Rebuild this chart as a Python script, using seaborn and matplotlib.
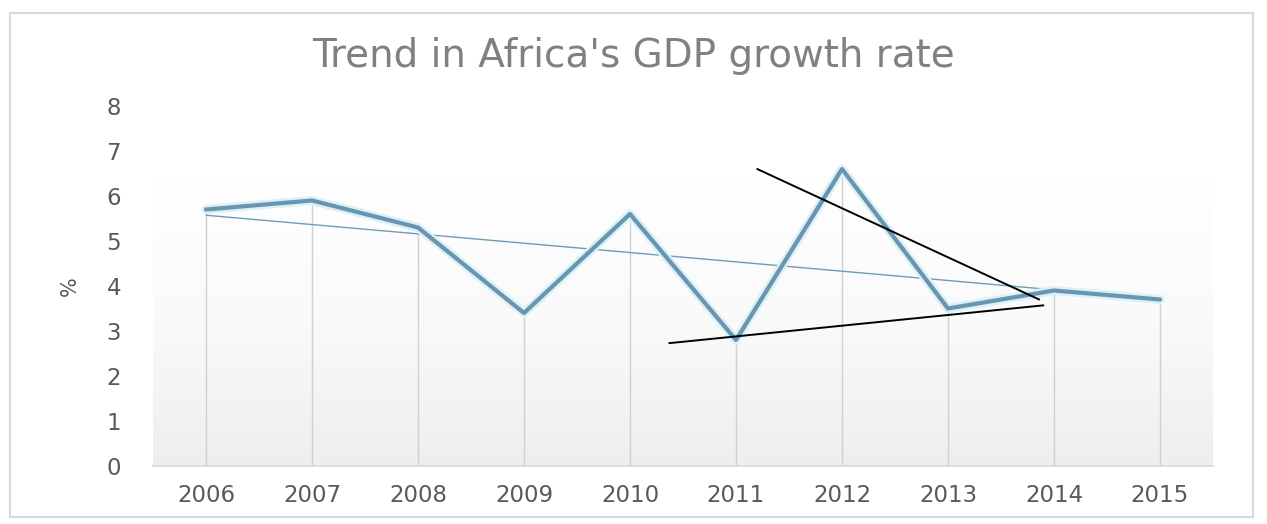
import numpy as np
import pandas as pd
import seaborn as sns
import matplotlib
matplotlib.use("Agg")
import matplotlib.pyplot as plt
import matplotlib.patheffects as pe
from matplotlib.colors import LinearSegmentedColormap
from matplotlib.patches import Rectangle

# Africa's real GDP growth, % per year
years = [2006, 2007, 2008, 2009, 2010, 2011, 2012, 2013, 2014, 2015]
growth = [5.7, 5.9, 5.3, 3.4, 5.6, 2.8, 6.6, 3.5, 3.9, 3.7]

# hand-drawn converging lines (start, end) in year / % units
upper_x = [2011.2, 2013.86]
upper_y = [6.6, 3.7]
lower_x = [2010.37, 2013.9]
lower_y = [2.73, 3.57]

y_ticks = [0, 1, 2, 3, 4, 5, 6, 7, 8]
title = "Trend in Africa's GDP growth rate"

df = pd.DataFrame({"year": years, "growth": growth})

sns.set_theme(style="white")
plt.rcParams["font.family"] = ["DejaVu Sans"]

W, H = 1267, 524
fig = plt.figure(figsize=(W / 100, H / 100), dpi=100)
fig.patch.set_facecolor("white")
ax = fig.add_axes([153 / W, 1 - 466 / H, 1060 / W, 360 / H])
ax.set_facecolor("white")

# soft grey plot-area gradient
grad = np.linspace(0, 1, 256).reshape(-1, 1)
cmap = LinearSegmentedColormap.from_list("bg", ["#eeeeee", "#fafafa", "#ffffff"])
ax.imshow(grad, extent=[years[0] - 0.5, years[-1] + 0.5, 0, 6.45],
          origin="lower", aspect="auto", cmap=cmap, zorder=0)

# drop lines from each point to the axis
ax.vlines(df["year"], 0, df["growth"], color="#d0d0d0", lw=1.0, zorder=1)

# linear trend line
sns.regplot(data=df, x="year", y="growth", scatter=False, ci=None, ax=ax,
            truncate=True,
            line_kws=dict(color="#6f9db5", lw=1.0, zorder=2))

# growth line with a light glow
sns.lineplot(data=df, x="year", y="growth", ax=ax, color="#6895b0", lw=3.0,
             zorder=3,
             path_effects=[pe.Stroke(linewidth=6.5, foreground="#dcf0f8"),
                           pe.Normal()])

ax.plot(upper_x, upper_y, color="black", lw=1.4, zorder=4)
ax.plot(lower_x, lower_y, color="black", lw=1.4, zorder=4)

ax.set_xlim(years[0] - 0.5, years[-1] + 0.5)
ax.set_ylim(0, 8)
ax.set_xticks(years)
ax.set_xticklabels([str(y) for y in years])
ax.set_yticks(y_ticks)
ax.tick_params(axis="both", length=0, colors="#595959", labelsize=16.5)
ax.tick_params(axis="y", pad=23)
ax.tick_params(axis="x", pad=13)
for s in ["top", "right", "left"]:
    ax.spines[s].set_visible(False)
ax.spines["bottom"].set_color("#d9d9d9")
ax.spines["bottom"].set_linewidth(1.2)
ax.set_xlabel("")
ax.set_ylabel("%", fontsize=15, color="#595959")
ax.yaxis.set_label_coords(-73 / 1060, 0.5)
ax.grid(False)

fig.text(633 / W, 1 - 56 / H, title, ha="center", va="center",
         fontsize=28, color="#808080")

# chart border
fig.patches.append(Rectangle((10 / W, 1 - 517 / H), 1243 / W, 504 / H,
                             transform=fig.transFigure, fill=False,
                             edgecolor="#d9d9d9", lw=1.5))

fig.savefig("out.png", dpi=100, facecolor="white")
